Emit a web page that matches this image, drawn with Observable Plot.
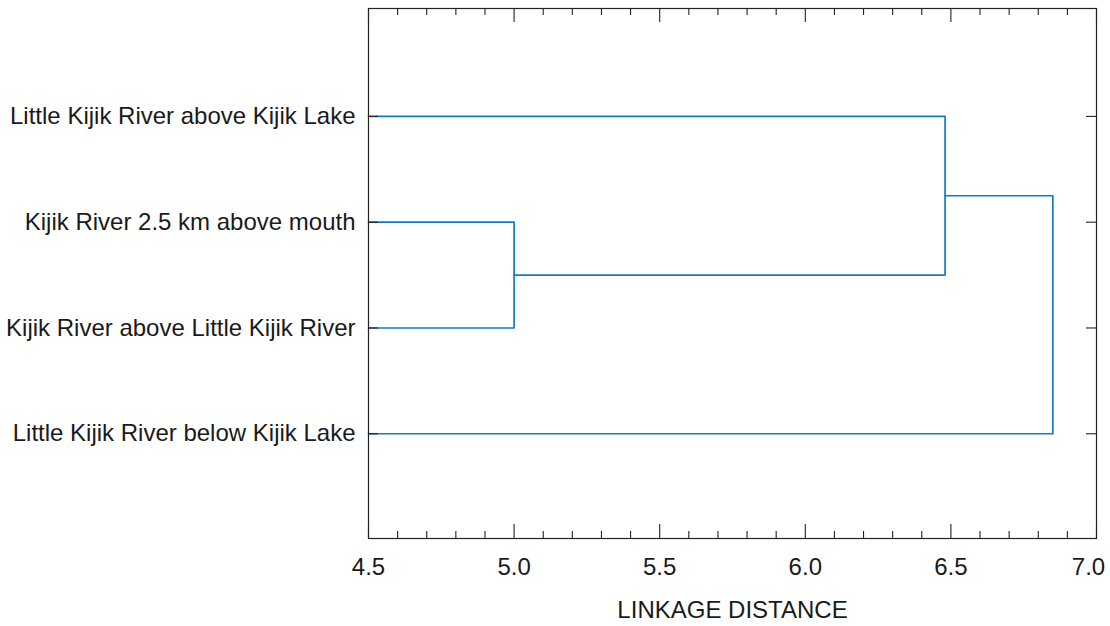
<!DOCTYPE html>
<html>
<head>
<meta charset="utf-8">
<script src="https://cdn.jsdelivr.net/npm/d3@7"></script>
<script src="https://cdn.jsdelivr.net/npm/@observablehq/plot@0.6"></script>
<style>
  html, body { margin: 0; padding: 0; background: #fff; }
</style>
</head>
<body>
<div id="chart"></div>
<script>
// ---- data ----
const leaves = [
  "Little Kijik River above Kijik Lake",
  "Kijik River 2.5 km above mouth",
  "Kijik River above Little Kijik River",
  "Little Kijik River below Kijik Lake"
];
// linkage: indices < n are leaves, indices >= n refer to earlier merges
const mergeChildren = [[1, 2], [0, 4], [5, 3]];
const mergeDistances = [5.0, 6.48, 6.85];
const xMajorTicks = [4.5, 5.0, 5.5, 6.0, 6.5, 7.0];
const xMinorTicks = [4.6, 4.7, 4.8, 4.9, 5.1, 5.2, 5.3, 5.4, 5.6, 5.7, 5.8, 5.9,
                     6.1, 6.2, 6.3, 6.4, 6.6, 6.7, 6.8, 6.9];
const xLabel = "LINKAGE DISTANCE";

// ---- layout ----
const W = 1110, H = 626;
const mL = 368, mR = 14, mT = 8, mB = 88;
const plotW = W - mL - mR, plotH = H - mT - mB;
const xDomain = [4.5, 7.0];
const yDomain = [-0.02, 4.99];
const lineColor = "#1479c5";
const inkColor = "#222";
const fontSize = 24;

// ---- build dendrogram polylines ----
const nodes = leaves.map((name, i) => ({x: xDomain[0], y: i + 1}));
const segs = [];
mergeChildren.forEach(([a, b], k) => {
  const d = mergeDistances[k];
  const A = nodes[a], B = nodes[b];
  segs.push({id: k, x: A.x, y: A.y}, {id: k, x: d, y: A.y},
            {id: k, x: d, y: B.y}, {id: k, x: B.x, y: B.y});
  nodes.push({x: d, y: (A.y + B.y) / 2});
});
const rows = leaves.map((_, i) => i + 1);
const lastTick = xMajorTicks[xMajorTicks.length - 1];

const chart = Plot.plot({
  width: W,
  height: H,
  marginLeft: mL,
  marginRight: mR,
  marginTop: mT,
  marginBottom: mB,
  x: {domain: xDomain},
  y: {domain: yDomain, reverse: true},
  style: {
    fontFamily: "'Liberation Sans', Arial, sans-serif",
    fontSize: fontSize + "px",
    color: "#1a1a1a",
    background: "#fff"
  },
  marks: [
    // dendrogram
    Plot.line(segs, {x: "x", y: "y", z: "id", stroke: lineColor, strokeWidth: 1.7, curve: "linear"}),
    // inward ticks, bottom
    Plot.ruleX(xMinorTicks, {x: d => d, y1: yDomain[0], y2: yDomain[1], insetTop: plotH - 7, stroke: inkColor, strokeWidth: 1.1}),
    Plot.ruleX(xMajorTicks, {x: d => d, y1: yDomain[0], y2: yDomain[1], insetTop: plotH - 14, stroke: inkColor, strokeWidth: 1.1}),
    // inward ticks, top
    Plot.ruleX(xMinorTicks, {x: d => d, y1: yDomain[0], y2: yDomain[1], insetBottom: plotH - 7, stroke: inkColor, strokeWidth: 1.1}),
    Plot.ruleX(xMajorTicks, {x: d => d, y1: yDomain[0], y2: yDomain[1], insetBottom: plotH - 14, stroke: inkColor, strokeWidth: 1.1}),
    // inward ticks, left and right at leaf rows
    Plot.ruleY(rows, {y: d => d, x1: xDomain[0], x2: xDomain[1], insetRight: plotW - 10, stroke: inkColor, strokeWidth: 1.1}),
    Plot.ruleY(rows, {y: d => d, x1: xDomain[0], x2: xDomain[1], insetLeft: plotW - 10, stroke: inkColor, strokeWidth: 1.1}),
    // frame
    Plot.frame({stroke: inkColor, strokeWidth: 1.2}),
    // tick labels
    Plot.axisX(xMajorTicks.filter(t => t !== lastTick), {anchor: "bottom", tickSize: 0, tickPadding: 19, tickFormat: d3.format(".1f"), label: null, fill: "#1a1a1a"}),
    Plot.axisX([lastTick], {anchor: "bottom", tickSize: 0, tickPadding: 19, tickFormat: d3.format(".1f"), label: null, fill: "#1a1a1a", dx: -8}),
    Plot.axisY(rows, {anchor: "left", tickSize: 0, tickPadding: 13, tickFormat: i => leaves[i - 1], label: null, fill: "#1a1a1a"}),
    // axis title
    Plot.text([xLabel], {text: d => d, frameAnchor: "bottom", lineAnchor: "top", dy: 62, fontSize: fontSize, fill: "#1a1a1a"})
  ]
});
document.getElementById("chart").appendChild(chart);
</script>
</body>
</html>
